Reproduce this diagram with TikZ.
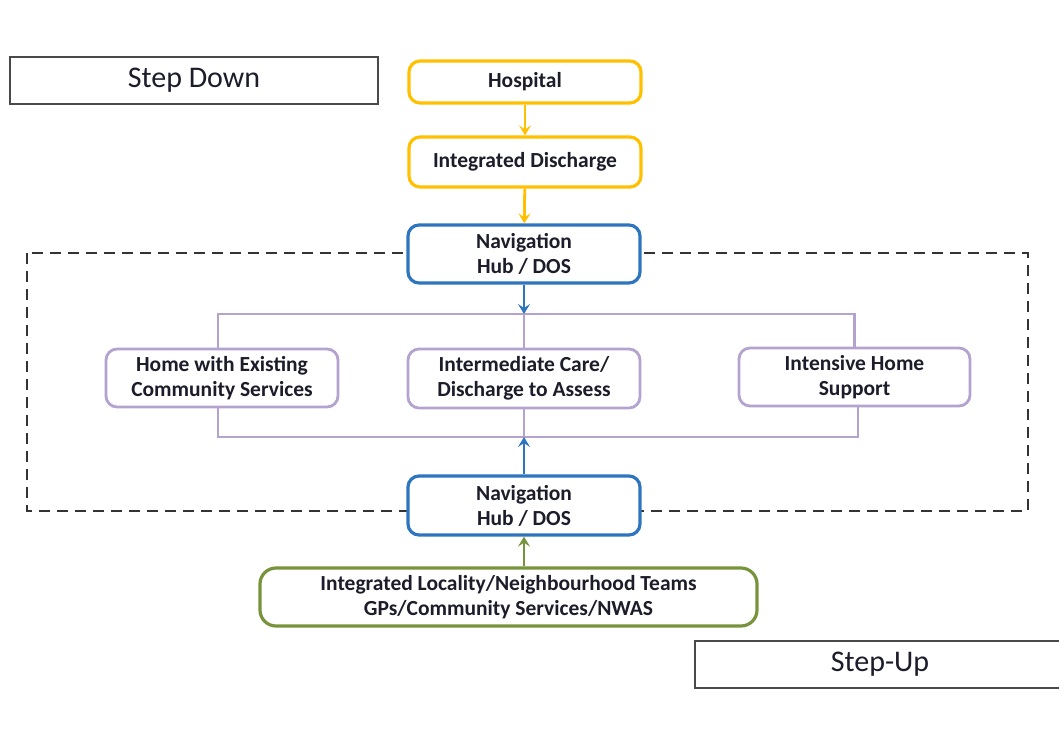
\documentclass[tikz,border=0pt]{standalone}
\usepackage{fontspec}
\setmainfont{Carlito}
\usetikzlibrary{arrows.meta}
\definecolor{cOrange}{HTML}{FFC000}
\definecolor{cBlue}{HTML}{2E75C0}
\definecolor{cPurple}{HTML}{B4A2CF}
\definecolor{cGreen}{HTML}{77933C}
\definecolor{cText}{HTML}{1C1C2A}
\definecolor{cFrame}{HTML}{4A4A4A}
\begin{document}
\begin{tikzpicture}[x=1pt,y=-1pt,
  every node/.style={text=cText, align=center, font=\fontsize{21.5}{25}\selectfont\bfseries, inner sep=0pt},
  flowbox/.style={draw, line width=3.2pt, rounded corners=11pt},
  orangebox/.style={flowbox, draw=cOrange},
  bluebox/.style={flowbox, draw=cBlue, fill=white},
  purplebox/.style={flowbox, draw=cPurple, line width=2.8pt, fill=white},
  greenbox/.style={flowbox, draw=cGreen, rounded corners=16pt},
  labelbox/.style={draw=cFrame, line width=2pt, font=\fontsize{30}{32}\selectfont},
  flow/.style={line width=2.8pt, -{Stealth[length=10pt,width=12pt,inset=4pt]}},
  bracket/.style={draw=cPurple, line width=2.8pt}
]
\useasboundingbox (0,0) rectangle (1059,751);

% labels
\node[labelbox, minimum width=368pt, minimum height=47pt] (down) at (194,80.5) {Step Down};
\node[labelbox, minimum width=370pt, minimum height=47pt] (up) at (880,664.5) {Step-Up};

% dashed region
\draw[dash pattern=on 11pt off 7pt, line width=2.4pt, draw=black!80] (27,253) rectangle (1028,511);

% step-down chain
\node[orangebox, minimum width=232pt, minimum height=42pt] (hosp) at (525,82) {Hospital};
\node[orangebox, minimum width=232pt, minimum height=50pt] (disc) at (525,162) {Integrated Discharge};
\node[bluebox, minimum width=232pt, minimum height=58pt] (hubA) at (524,254) {Navigation\\Hub / DOS};

% options
\node[purplebox, minimum width=232pt, minimum height=58pt] (home) at (222,378) {Home with Existing\\Community Services};
\node[purplebox, minimum width=232pt, minimum height=59pt] (inter) at (524,378.5) {Intermediate Care/\\Discharge to Assess};
\node[purplebox, minimum width=231pt, minimum height=58pt] (ihs) at (854.5,377) {Intensive Home\\Support};

% step-up chain
\node[bluebox, minimum width=232pt, minimum height=59pt] (hubB) at (524,505.5) {Navigation\\Hub / DOS};
\node[greenbox, minimum width=497pt, minimum height=58pt] (teams) at (508.5,597) {Integrated Locality/Neighbourhood Teams\\GPs/Community Services/NWAS};

% brackets joining the options
\coordinate (topbar) at (524,314);
\coordinate (botbar) at (524,437);
\draw[bracket] (home.north -| 218,0) |- (topbar) -| (ihs.north);
\draw[bracket] (inter.north) -- (topbar);
\draw[bracket] (home.south -| 218,0) |- (botbar) -| (858,0 |- ihs.south);
\draw[bracket] (inter.south) -- (botbar);

% arrows
\draw[flow, draw=cOrange] (hosp) -- (disc);
\draw[flow, draw=cOrange] (disc) -- (hubA);
\draw[flow, draw=cBlue] (hubA) -- (topbar);
\draw[flow, draw=cBlue] (hubB) -- (botbar);
\draw[flow, draw=cGreen] (teams.north -| hubB) -- (hubB);
\end{tikzpicture}
\end{document}
